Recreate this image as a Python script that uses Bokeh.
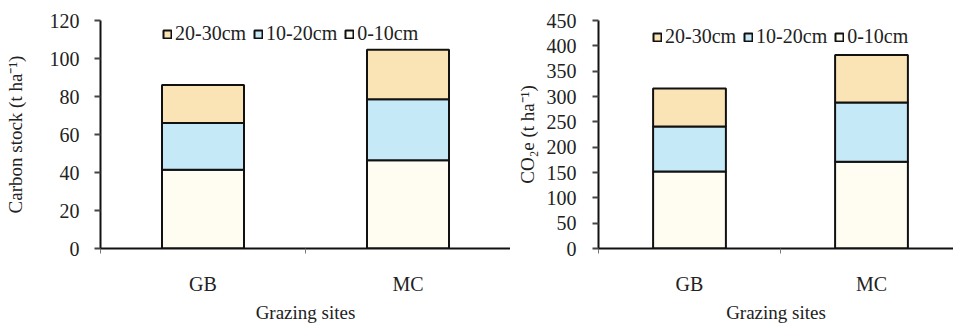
from bokeh.plotting import figure
from bokeh.models import (ColumnDataSource, Range1d, FixedTicker, Legend, LegendItem)
from bokeh.layouts import row
from bokeh.embed import file_html
from bokeh.resources import INLINE

sites = ["GB", "MC"]
depths = ["0-10cm", "10-20cm", "20-30cm"]
carbon_0_10 = [41.5, 46.4]
carbon_10_20 = [24.5, 32.1]
carbon_20_30 = [20.0, 26.1]
co2e_0_10 = [152, 171]
co2e_10_20 = [89, 117]
co2e_20_30 = [75, 94]
carbon_ticks = [0, 20, 40, 60, 80, 100, 120]
co2e_ticks = [0, 50, 100, 150, 200, 250, 300, 350, 400, 450]

colors = ["#FFFDF2", "#C6E9F8", "#FAE3B4"]
FONT = "Liberation Serif"


def make_chart(vals, ymax, yticks, ylabel, frame_w, xend, border_left, border_right,
               ylabel_standoff, ytick_standoff, legend_loc):
    x_pos = [i + 0.5 for i in range(len(sites))]
    src = ColumnDataSource(dict(x=x_pos, d0=vals[0], d1=vals[1], d2=vals[2]))
    p = figure(frame_width=frame_w, frame_height=228, output_backend="svg",
               toolbar_location=None, x_range=Range1d(0, xend), y_range=Range1d(0, ymax),
               min_border_left=border_left, min_border_right=border_right,
               min_border_top=20, min_border_bottom=76)
    p.outline_line_color = None
    p.grid.grid_line_color = None
    p.background_fill_color = "white"
    p.border_fill_color = "white"
    rs = p.vbar_stack(["d0", "d1", "d2"], x="x", width=0.4, source=src,
                      fill_color=colors, line_color="#111111", line_width=2)

    # x axis
    xa = p.xaxis[0]
    xa.ticker = FixedTicker(ticks=x_pos, minor_ticks=[0, 1, 2])
    xa.major_label_overrides = {xp: s for xp, s in zip(x_pos, sites)}
    xa.major_tick_out = 0
    xa.major_tick_in = 0
    xa.minor_tick_out = 5
    xa.minor_tick_in = 0
    xa.minor_tick_line_color = "#777777"
    xa.major_label_standoff = 19
    xa.axis_label = "Grazing sites"
    xa.axis_label_standoff = 4
    xa.axis_line_width = 2
    xa.axis_line_color = "#111111"
    xa.major_label_text_font = FONT
    xa.major_label_text_font_size = "20px"
    xa.major_label_text_color = "#222222"
    xa.axis_label_text_font = FONT
    xa.axis_label_text_font_size = "19px"
    xa.axis_label_text_font_style = "normal"
    xa.axis_label_text_color = "#222222"

    # y axis
    ya = p.yaxis[0]
    ya.ticker = FixedTicker(ticks=yticks, minor_ticks=[])
    ya.major_tick_out = 6
    ya.major_tick_in = 0
    ya.major_tick_line_width = 2
    ya.major_tick_line_color = "#444444"
    ya.major_label_standoff = ytick_standoff
    ya.axis_line_width = 2
    ya.axis_line_color = "#111111"
    ya.axis_label = ylabel
    ya.axis_label_standoff = ylabel_standoff
    ya.major_label_text_font = FONT
    ya.major_label_text_font_size = "20px"
    ya.major_label_text_color = "#222222"
    ya.axis_label_text_font = FONT
    ya.axis_label_text_font_size = "19px"
    ya.axis_label_text_font_style = "normal"
    ya.axis_label_text_color = "#222222"

    items = [LegendItem(label=depths[i], renderers=[rs[i]]) for i in (2, 1, 0)]
    leg = Legend(items=items, orientation="horizontal", location=legend_loc,
                 glyph_width=10, glyph_height=10, label_standoff=3, spacing=7,
                 padding=0, margin=0, border_line_color=None,
                 background_fill_alpha=0, label_text_font=FONT,
                 label_text_font_size="20px", label_text_color="#222222",
                 label_height=20)
    p.add_layout(leg, "center")
    return p


p1 = make_chart([carbon_0_10, carbon_10_20, carbon_20_30], 120, carbon_ticks,
                "Carbon stock (t ha\u207b\u00b9)", 410, 2.0, 100, 0, 21, 15, (62, 203))
p2 = make_chart([co2e_0_10, co2e_10_20, co2e_20_30], 450, co2e_ticks,
                "CO\u2082e (t ha\u207b\u00b9)", 355, 355 / 182, 88, 0, 6, 16, (54, 200))

layout = row(p1, p2)
open("out.html", "w").write(file_html(layout, INLINE))
